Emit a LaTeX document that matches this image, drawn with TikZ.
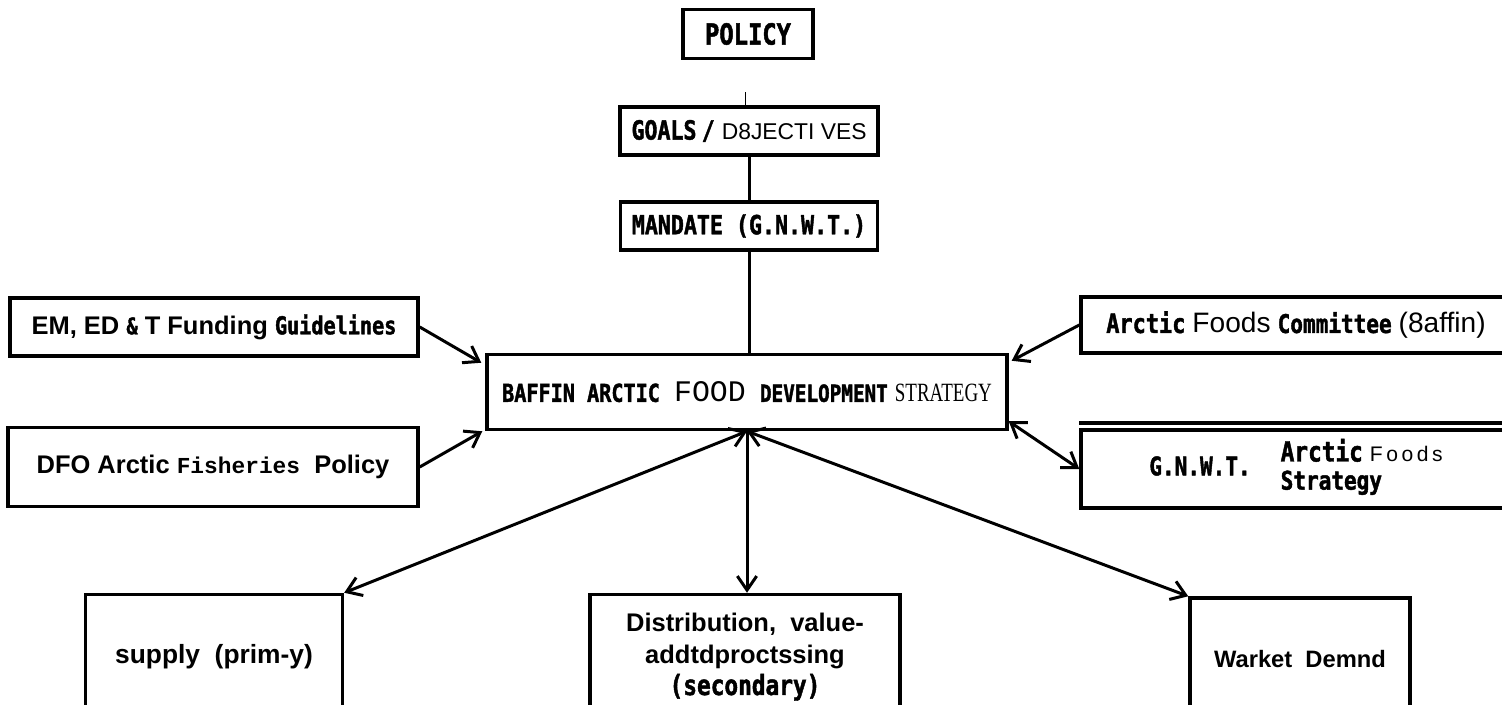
\documentclass[tikz,border=0pt]{standalone}
\usepackage{fontspec}
\usetikzlibrary{arrows.meta}
\setmainfont{Liberation Sans}
\newfontfamily\heavy{DejaVu Sans Mono}[BoldFeatures={FakeBold=1.6,FakeStretch=0.82}]
\newfontfamily\cour{Liberation Mono}
\newfontfamily\narrowserif[FakeStretch=0.72]{Liberation Serif}
\newcommand{\hv}[2][14.6]{{\heavy\bfseries\fontsize{#1}{#1}\selectfont #2}}

\begin{document}
\begin{tikzpicture}[x=0.02cm, y=-0.02cm,
  box/.style={rectangle, draw, line width=2pt, inner sep=0pt, align=center, anchor=center,
              font=\bfseries\fontsize{14.5}{18}\selectfont},
  link/.style={line width=1.7pt, >={Straight Barb[length=8pt,width=11pt]}}]

      \path[use as bounding box] (0,0) rectangle (1502,705);
      \clip (0,0) rectangle (1502,705);

      \node[box, minimum width=2.6cm, minimum height=0.98cm] (policy) at (748,34) {\hv[16.5]{POLICY}};
      \node[box, minimum width=5.16cm, minimum height=0.96cm] (goals) at (749,131)
        {\hv[15]{GOALS}\hspace{3pt}\hv[15]{/}\hspace{4pt}{\mdseries\fontsize{13}{15}\selectfont D8JECTI VES}};
      \node[box, minimum width=5.14cm, minimum height=0.96cm] (mandate) at (749,226) {\hv[15]{MANDATE (G.N.W.T.)}};

      \node[box, minimum width=10.4cm, minimum height=1.5cm] (strategy) at (747,392)
        {\hv[14]{BAFFIN\ ARCTIC}\ \ {\cour\mdseries\fontsize{17}{17}\selectfont FOOD}\ \ \hv[13.4]{DEVELOPMENT}\ {\narrowserif\mdseries\fontsize{15}{15}\selectfont STRATEGY}};

      \node[box, minimum width=8.16cm, minimum height=1.16cm] (funding) at (214,327)
        {EM, ED \hv[13]{\&} T Funding \hv[14]{Guidelines}};
      \node[box, minimum width=8.2cm, minimum height=1.58cm] (dfo) at (213,467)
        {DFO Arctic {\cour\fontsize{13}{13}\selectfont Fisheries}\ \ Policy};

      \node[box, minimum width=8.6cm, minimum height=1.12cm] (committee) at (1296,325)
        {\hv[15.2]{Arctic} {\mdseries\fontsize{16}{16}\selectfont Foods} \hv{Committee} {\mdseries\fontsize{16}{16}\selectfont (8affin)}};
      \node[box, minimum width=8.6cm, minimum height=1.56cm] (gnwt) at (1296,469)
        {\hv{G.N.W.T.}\hspace{0.6cm}\begin{tabular}{@{}l@{}}\hv[15.8]{Arctic} {\mdseries\fontsize{12}{12}\selectfont F\,o\,o\,d\,s}\\[-2pt]\hv{Strategy}\end{tabular}};
      \draw[line width=2pt] (gnwt.north west) ++(0,-5) -- ++(430,0);

      \node[box, minimum width=5.14cm, minimum height=2.5cm] (supply) at (214,657) {\fontsize{15}{18}\selectfont supply\ \ (prim-y)};
      \node[box, minimum width=6.2cm, minimum height=2.5cm] (distrib) at (745,657)
        {Distribution,\ \ value-\\addtdproctssing\\\hv[15.8]{(secondary)}};
      \node[box, minimum width=4.4cm, minimum height=2.44cm] (market) at (1300,659)
        {\fontsize{13.5}{18}\selectfont Warket\ \ Demnd};

      \draw[line width=0.4pt] ([xshift=-0.08cm]goals.north) -- ++(0,-13);
      \draw[link] (goals) -- (mandate);
      \draw[link] (mandate.south) -- (mandate.south |- strategy.north);

      \draw[link, ->] (funding.east) -- ([xshift=-0.08cm,yshift=-0.2cm]strategy.north west);
      \draw[link, ->] (dfo.east) -- ([xshift=-0.06cm]strategy.south west);
      \draw[link, ->] (committee.west) -- ([xshift=0.06cm,yshift=-0.16cm]strategy.north east);
      \draw[link, <->] ([yshift=0.2cm]strategy.south east) -- (gnwt.west);

      \draw[link, ->] (strategy.south) -- (strategy.south |- distrib.north);
      \draw[link, <->] (strategy.south) -- (supply.north east);
      \draw[link, <->] (strategy.south) -- (market.north west);

    \end{tikzpicture}
\end{document}
